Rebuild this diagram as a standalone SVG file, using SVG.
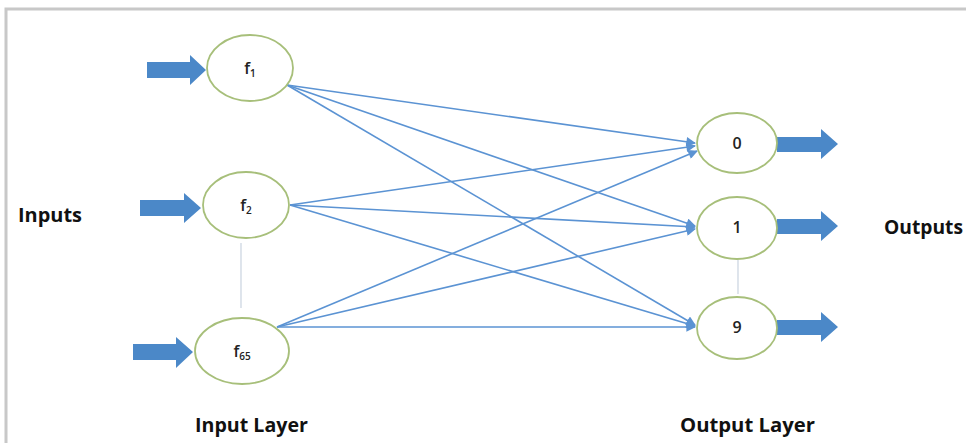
<svg xmlns="http://www.w3.org/2000/svg" width="966" height="443" viewBox="0 0 966 443">
<style>
.node{fill:#ffffff;stroke:#a7bf7a;stroke-width:1.8}
.conn{stroke:#5b93d3;stroke-width:1.6;fill:none}
.big{fill:#4b88c8}
.lbl{font-family:"Open Sans","Liberation Sans",sans-serif;font-weight:bold;font-size:19px;fill:#111}
.nt{font-family:"Open Sans","Liberation Sans",sans-serif;font-size:16px;font-weight:600;fill:#222;text-anchor:middle}
.sub{font-size:10px}
.dot{stroke:#c9d3e0;stroke-width:1.2}
</style>
<defs>
<marker id="ah" viewBox="0 0 10 10" refX="9" refY="5" markerWidth="6.5" markerHeight="6" orient="auto" markerUnits="strokeWidth">
<path d="M0,0 L10,5 L0,10 z" fill="#5b93d3"/>
</marker>
</defs>
<rect x="0" y="0" width="966" height="443" fill="#ffffff"/>
<path d="M6,443 V9 H966" fill="none" stroke="#c8c8c8" stroke-width="3"/>

<g id="connectors">
<line class="conn" x1="287" y1="85" x2="695" y2="143" marker-end="url(#ah)"/>
<line class="conn" x1="287" y1="85" x2="695" y2="226" marker-end="url(#ah)"/>
<line class="conn" x1="287" y1="85" x2="695" y2="325" marker-end="url(#ah)"/>
<line class="conn" x1="290" y1="205" x2="695" y2="146" marker-end="url(#ah)"/>
<line class="conn" x1="290" y1="205" x2="695" y2="227" marker-end="url(#ah)"/>
<line class="conn" x1="290" y1="205" x2="695" y2="326" marker-end="url(#ah)"/>
<line class="conn" x1="277" y1="327" x2="697" y2="151" marker-end="url(#ah)"/>
<line class="conn" x1="277" y1="327" x2="695" y2="229" marker-end="url(#ah)"/>
<line class="conn" x1="277" y1="327" x2="695" y2="327" marker-end="url(#ah)"/>
<line class="dot" x1="241" y1="243" x2="241" y2="308"/>
<line class="dot" x1="738" y1="260" x2="738" y2="294"/>
</g>

<g id="in-arrows">
<path class="big" d="M147,62 H190 V55 L206,70 L190,85 V78 H147 Z"/>
<path class="big" d="M140,200 H184 V193 L201,208 L184,223 V216 H140 Z"/>
<path class="big" d="M133,344 H176 V337 L193,352 L176,368 V360 H133 Z"/>
</g>
<g id="out-arrows">
<path class="big" d="M777,137 H821 V129 L838,144 L821,159 V152 H777 Z"/>
<path class="big" d="M777,219 H821 V211 L838,226 L821,241 V234 H777 Z"/>
<path class="big" d="M777,320 H821 V312 L838,327 L821,342 V335 H777 Z"/>
</g>

<g id="node-f1">
<ellipse class="node" cx="250" cy="68" rx="43" ry="33"/>
<text class="nt" x="250" y="74">f<tspan class="sub" dy="3">1</tspan></text>
</g>
<g id="node-f2">
<ellipse class="node" cx="246" cy="205" rx="43" ry="33"/>
<text class="nt" x="246" y="211">f<tspan class="sub" dy="3">2</tspan></text>
</g>
<g id="node-f65">
<ellipse class="node" cx="242" cy="351" rx="47" ry="33"/>
<text class="nt" x="242" y="357">f<tspan class="sub" dy="3">65</tspan></text>
</g>
<g id="node-0">
<ellipse class="node" cx="737" cy="143" rx="40" ry="30"/>
<text class="nt" x="737" y="149">0</text>
</g>
<g id="node-1">
<ellipse class="node" cx="737" cy="228" rx="40" ry="31"/>
<text class="nt" x="737" y="233">1</text>
</g>
<g id="node-9">
<ellipse class="node" cx="737" cy="328" rx="40" ry="31"/>
<text class="nt" x="737" y="333">9</text>
</g>

<g id="labels">
<text class="lbl" x="18" y="222" textLength="64" lengthAdjust="spacingAndGlyphs">Inputs</text>
<text class="lbl" x="884" y="234" textLength="79" lengthAdjust="spacingAndGlyphs">Outputs</text>
<text class="lbl" x="195" y="432" textLength="113" lengthAdjust="spacingAndGlyphs">Input Layer</text>
<text class="lbl" x="680" y="432" textLength="135" lengthAdjust="spacingAndGlyphs">Output Layer</text>
</g>
</svg>
